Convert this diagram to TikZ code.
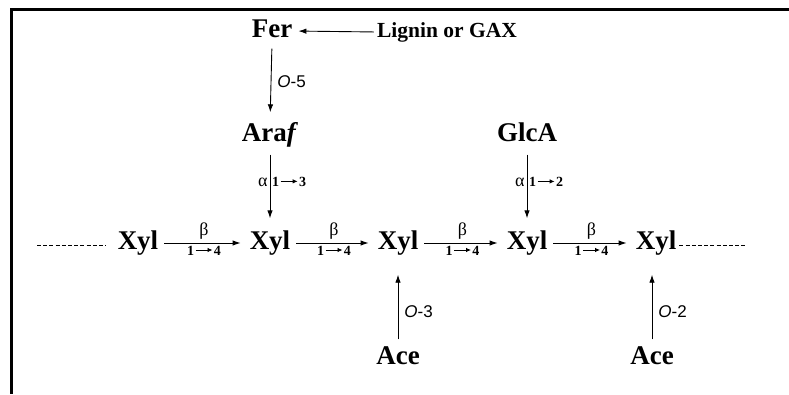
\documentclass[tikz,border=0pt]{standalone}
\usepackage{fontspec}
\setmainfont{Liberation Serif}
\newfontfamily\helv{Liberation Sans}
\usetikzlibrary{arrows.meta}
\newcommand\bondlab[2]{\textbf{#1}\kern1pt\raisebox{3.2pt}{\tikz[x=1pt,y=1pt]\draw[line width=0.8pt,shorten <=0pt,shorten >=0pt,-{Latex[length=5pt,width=4.5pt]}](0,0)--(17,0);}\kern1pt\textbf{#2}}
\tikzset{
  sugar/.style={font=\fontsize{27}{30}\selectfont\bfseries, inner sep=0pt, text height=18pt, text depth=5pt},
  src/.style={font=\fontsize{21.5}{24}\selectfont\bfseries, inner sep=0pt, text height=15pt, text depth=4pt},
  arr/.style={draw, line width=0.9pt, -{Latex[length=8pt,width=5.5pt]}},
  dashline/.style={draw, line width=0.9pt, dash pattern=on 4pt off 2.2pt},
  greek/.style={font=\fontsize{18}{20}\selectfont, inner sep=2pt},
  bond/.style={font=\fontsize{14}{16}\selectfont, inner sep=2pt},
  olab/.style={font=\helv\fontsize{17}{20}\selectfont, inner sep=0pt, anchor=west},
  frame/.style={line width=2.6pt}
}
\begin{document}
\begin{tikzpicture}[x=1pt,y=-1pt]
\useasboundingbox (0,0) rectangle (789,394);
\draw[frame] (789,9.5) -- (11.5,9.5) -- (11.5,394);
% nodes
\node[sugar] (fer) at (272,31) {Fer};
\node[src] (lig) at (447,32) {Lignin or GAX};
\node[sugar] (araf) at (270,135) {Ara\textit{f}};
\node[sugar] (glca) at (527,135) {GlcA};
\node[sugar] (x1) at (138,243) {Xyl};
\node[sugar] (x2) at (270,243) {Xyl};
\node[sugar] (x3) at (398,243) {Xyl};
\node[sugar] (x4) at (527,243) {Xyl};
\node[sugar] (x5) at (656,243) {Xyl};
\node[sugar] (ace1) at (398,358) {Ace};
\node[sugar] (ace2) at (652,358) {Ace};
\coordinate (dl) at (37,245);
\coordinate (dr) at (746,245);
% connectors
\draw[arr, shorten <=3pt, shorten >=6pt] (lig.west) -- (fer.east);
\draw[arr, shorten <=6pt, shorten >=11pt] (fer.south) -- (araf.north)
  node[olab, pos=0.48, xshift=6pt] {\textit{O}-5};
\draw[arr, shorten <=8pt, shorten >=13pt] (araf.south) -- (x2.north)
  node[greek, pos=0.42, anchor=east] {α}
  node[bond, pos=0.42, anchor=west] {\bondlab{1}{3}};
\draw[arr, shorten <=8pt, shorten >=13pt] (glca.south) -- (x4.north)
  node[greek, pos=0.42, anchor=east] {α}
  node[bond, pos=0.42, anchor=west] {\bondlab{1}{2}};
\foreach \a/\b in {x1/x2, x2/x3, x3/x4, x4/x5}{
  \draw[arr, shorten <=6pt, shorten >=9pt] (\a.east) -- (\b.west)
    node[greek, midway, above, yshift=1pt] {β}
    node[bond, midway, below, yshift=-1pt] {\bondlab{1}{4}};
}
\draw[arr, shorten <=7pt, shorten >=20pt] (ace1.north) -- (x3.south)
  node[olab, pos=0.38, xshift=6pt] {\textit{O}-3};
\draw[arr, shorten <=7pt, shorten >=20pt] (ace2.north) -- (x5.south -| ace2.north)
  node[olab, pos=0.38, xshift=6pt] {\textit{O}-2};
\draw[dashline] (dl) -- ([xshift=-12pt]x1.west |- dl);
\draw[dashline] ([xshift=3pt]x5.east |- dr) -- (dr);
\end{tikzpicture}
\end{document}
